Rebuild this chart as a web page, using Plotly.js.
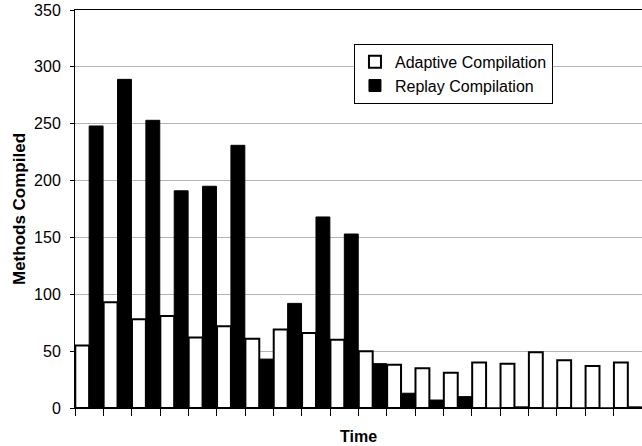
<!DOCTYPE html>
<html>
<head>
<meta charset="utf-8">
<script src="https://cdn.plot.ly/plotly-3.0.1.min.js"></script>
<style>html,body{margin:0;padding:0;overflow:hidden;background:#fff}</style>
</head>
<body>
<div id="chart" style="width:642px;height:446px"></div>
<script>
const periods = ["T1","T2","T3","T4","T5","T6","T7","T8","T9","T10","T11","T12","T13","T14","T15","T16","T17","T18","T19","T20"];
const adaptiveCompilation = [55, 93, 78, 81, 62, 72, 61, 69, 66, 60, 50, 38, 35, 31, 40, 39, 49, 42, 37, 40];
const replayCompilation   = [248, 289, 253, 191, 195, 231, 43, 92, 168, 153, 39, 13, 7, 10, 0, 1, 0, 0, 0, 1];
const yTickValues = [0, 50, 100, 150, 200, 250, 300, 350];

const font = "Liberation Sans, Arial, sans-serif";

const traces = [
  {
    type: "bar", name: "Adaptive Compilation", x: periods, y: adaptiveCompilation,
    marker: {color: "#ffffff", line: {color: "#000000", width: 2}}
  },
  {
    type: "bar", name: "Replay Compilation", x: periods, y: replayCompilation,
    marker: {color: "#000000", line: {color: "#000000", width: 1}}
  }
];

const layout = {
  width: 642, height: 446,
  margin: {l: 75, r: 0, t: 10, b: 38},
  paper_bgcolor: "#ffffff", plot_bgcolor: "#ffffff",
  font: {family: font, size: 16, color: "#000"},
  barmode: "group", bargap: 0.02, bargroupgap: 0,
  showlegend: true,
  legend: {
    x: 0.492, y: 0.915, xanchor: "left", yanchor: "top",
    bgcolor: "#ffffff", bordercolor: "#000000", borderwidth: 1,
    font: {family: font, size: 16, color: "#000"},
    traceorder: "normal"
  },
  xaxis: {
    type: "category",
    showticklabels: false,
    ticks: "outside", ticklen: 7, tickcolor: "#000", tickwidth: 1,
    tickson: "boundaries",
    showline: true, linecolor: "#000", linewidth: 1, mirror: true,
    showgrid: false, zeroline: false,
    title: {text: "<b>Time</b>", font: {family: font, size: 16, color: "#000"}, standoff: 22}
  },
  yaxis: {
    range: [0, 350], tickvals: yTickValues,
    ticks: "outside", ticklen: 4, tickcolor: "#000",
    ticklabelstandoff: 6,
    showline: true, linecolor: "#000", linewidth: 1,
    showgrid: true, gridcolor: "#b4b4b4", gridwidth: 1,
    zeroline: false,
    tickfont: {family: font, size: 16, color: "#000"},
    title: {text: "<b>Methods Compiled</b>", font: {family: font, size: 17, color: "#000"}, standoff: 4}
  }
};

Plotly.newPlot("chart", traces, layout, {displayModeBar: false, staticPlot: true});
</script>
</body>
</html>
